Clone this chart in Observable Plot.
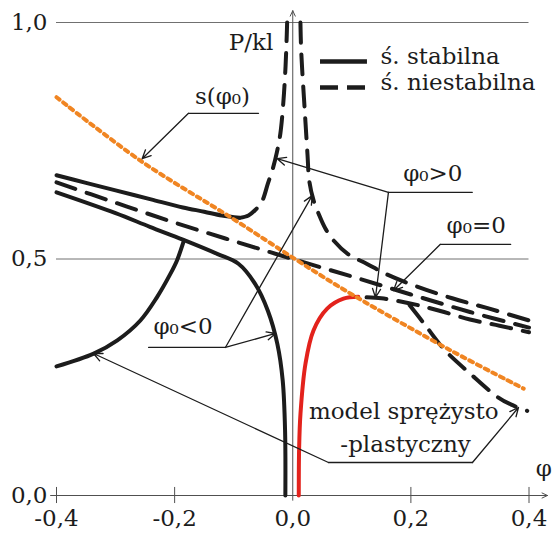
<!DOCTYPE html>
<html><head><meta charset="utf-8">
<script src="https://cdn.jsdelivr.net/npm/d3@7"></script>
<script src="https://cdn.jsdelivr.net/npm/@observablehq/plot@0.6"></script>
<style>
body{margin:0;background:#fff}
svg{display:block}
svg text, svg tspan{font-family:'DejaVu Serif','Liberation Serif','Noto Serif',Times,serif !important}
</style>
</head><body><div id="chart"></div>
<script>
// ---- axes ----
const xTicks = [-0.4, -0.2, 0, 0.2, 0.4];
const xTickMarks = [-0.4, -0.2, 0.2, 0.4];
const yTicks = [0, 0.5, 1.0];
const gridY = [0.5, 1.0];

// ---- curves (phi, P/kl) ----
const stablePos = [[-0.4,0.677],[-0.35,0.661],[-0.3,0.645],[-0.24,0.626],[-0.186,0.609],[-0.15,0.600],[-0.12,0.592],[-0.09,0.587]];
const unstablePos = [[-0.09,0.587],[-0.075,0.592],[-0.064,0.603],[-0.052,0.622],[-0.042,0.66],[-0.034,0.69],[-0.027,0.725],[-0.021,0.765],[-0.016,0.83],[-0.0125,0.9],[-0.0105,0.96],[-0.0095,1.0]];
const stableNeg = [[-0.4,0.641],[-0.3,0.597],[-0.242,0.568],[-0.186,0.541],[-0.128,0.511],[-0.092,0.49],[-0.064,0.448],[-0.042,0.39],[-0.026,0.32],[-0.017,0.243],[-0.013,0.137],[-0.0125,0]];
const unstableNeg = [[0.013,1.0],[0.014,0.95],[0.016,0.9],[0.019,0.84],[0.0215,0.79],[0.025,0.72],[0.028,0.665],[0.035,0.625],[0.044,0.595],[0.055,0.565],[0.07,0.538],[0.093,0.511],[0.125,0.49],[0.16,0.467],[0.21,0.442],[0.27,0.417],[0.33,0.396],[0.4,0.37]];
const perfect = [[-0.4,0.662],[-0.3,0.619],[-0.2,0.577],[-0.1,0.538],[0,0.5],[0.1,0.463],[0.2,0.425],[0.3,0.388],[0.4,0.355]];
const unstablePosRight = [[0.125,0.419],[0.15,0.417],[0.175,0.412],[0.21,0.403],[0.25,0.39],[0.3,0.372],[0.35,0.359],[0.4,0.345]];
const plasticRight = [[0.198,0.402],[0.222,0.364],[0.257,0.308],[0.3,0.258],[0.347,0.208],[0.37,0.192],[0.397,0.179]];
const plasticLeft = [[-0.4,0.273],[-0.337,0.30],[-0.297,0.328],[-0.258,0.37],[-0.23,0.419],[-0.207,0.469],[-0.196,0.497],[-0.185,0.536]];
const elasticPlastic = [[0.0102,0],[0.0108,0.1],[0.0131,0.173],[0.0216,0.279],[0.0351,0.349],[0.0583,0.395],[0.0859,0.416],[0.111,0.42]];
const yieldLine = [[-0.4,0.842],[-0.258,0.708],[-0.105,0.588],[0.0075,0.497],[0.103,0.423],[0.267,0.307],[0.391,0.226]];

// ---- annotation leaders ----
const leaderLines = [
  [[-0.1765,0.808],[-0.058,0.808]],
  [[0.162,0.641],[0.304,0.641]],
  [[0.250,0.531],[0.369,0.531]],
  [[-0.244,0.313],[-0.114,0.313]],
  [[0.0605,0.0698],[0.3043,0.0698]]
];
const leaderArrows = [
  [-0.1765,0.808,-0.255,0.712],
  [0.162,0.641,-0.0263,0.712],
  [0.162,0.641,0.1401,0.4186],
  [0.250,0.531,0.1706,0.4334],
  [-0.114,0.313,-0.0292,0.3425],
  [-0.114,0.313,0.0329,0.634],
  [0.0605,0.0698,-0.3373,0.3002],
  [0.3043,0.0698,0.3822,0.186]
];
const labels = [
  {x:-0.119, y:0.843, t:"s(φ₀)"},
  {x:-0.0707, y:0.957, t:"P/kl"},
  {x:0.2372, y:0.681, t:"φ₀>0"},
  {x:0.3106, y:0.5715, t:"φ₀=0"},
  {x:-0.1857, y:0.3565, t:"φ₀<0"},
  {x:0.188, y:0.178, t:"model sprężysto"},
  {x:0.191, y:0.1078, t:"-plastyczny"},
  {x:0.425, y:0.057, t:"φ"}
];
const legendNames = ["ś. stabilna", "ś. niestabilna"];
const legendY = [0.9175, 0.8626];
const legendX = [0.047, 0.1265, 0.1486];

const fmt = d => d.toFixed(1).replace(".", ",");
const serif = "DejaVu Serif";
const ink = "#1c1c1c";
const dash = "20,12";
const lw = 4;
const fs = 23;
const P = () => ({x: d => d[0], y: d => d[1]});

const chart = Plot.plot({
  width: 553, height: 536,
  marginLeft: 56, marginRight: 24.5, marginTop: 22, marginBottom: 41,
  x: {domain: [-0.4, 0.4], label: null},
  y: {domain: [0, 1], label: null},
  style: {background: "#fff", overflow: "visible"},
  marks: [
    Plot.axisX({ticks: xTicks, tickSize: 0, tickPadding: 14, tickFormat: fmt, fontSize: fs, fontFamily: serif, fill: ink, label: null}),
    Plot.axisY({ticks: yTicks, tickSize: 0, tickPadding: 9, tickFormat: fmt, fontSize: fs, fontFamily: serif, fill: ink, label: null}),
    Plot.ruleY(gridY, {x1: -0.4, x2: 0.4, stroke: "#707070", strokeWidth: 1}),
    Plot.arrow([[-0.41, 0, 0.4313, 0], [0, -0.01, 0, 1.025]], {x1: d => d[0], y1: d => d[1], x2: d => d[2], y2: d => d[3], stroke: "#505050", strokeWidth: 1, headLength: 9, headAngle: 50}),
    Plot.ruleX(xTickMarks, {y1: -0.017, y2: 0.017, stroke: "#505050", strokeWidth: 1}),
    // curves
    Plot.line(plasticLeft, {...P(), stroke: ink, strokeWidth: lw, curve: "catmull-rom"}),
    Plot.line(stablePos, {...P(), stroke: ink, strokeWidth: lw, curve: "catmull-rom"}),
    Plot.line(unstablePos, {...P(), stroke: ink, strokeWidth: lw, strokeDasharray: dash, curve: "catmull-rom"}),
    Plot.line(stableNeg, {...P(), stroke: ink, strokeWidth: lw, curve: "catmull-rom"}),
    Plot.line(unstableNeg, {...P(), stroke: ink, strokeWidth: lw, strokeDasharray: dash, curve: "catmull-rom"}),
    Plot.line(perfect, {...P(), stroke: ink, strokeWidth: lw, strokeDasharray: dash, curve: "catmull-rom"}),
    Plot.line(unstablePosRight, {...P(), stroke: ink, strokeWidth: lw, strokeDasharray: dash, curve: "catmull-rom"}),
    Plot.line(plasticRight, {...P(), stroke: ink, strokeWidth: lw, strokeDasharray: dash, curve: "catmull-rom"}),
    Plot.line(elasticPlastic, {...P(), stroke: "#e3221c", strokeWidth: lw, curve: "catmull-rom"}),
    Plot.line(yieldLine, {...P(), stroke: "#f08522", strokeWidth: 4, strokeDasharray: "4,4.6", curve: "catmull-rom"}),
    // leaders
    ...leaderLines.map(seg => Plot.line(seg, {...P(), stroke: ink, strokeWidth: 1.3})),
    Plot.arrow(leaderArrows, {x1: d => d[0], y1: d => d[1], x2: d => d[2], y2: d => d[3], stroke: ink, strokeWidth: 1.3, headLength: 11, headAngle: 50}),
    // legend
    Plot.ruleY([legendY[0]], {x1: legendX[0], x2: legendX[1], stroke: ink, strokeWidth: 4.5}),
    Plot.ruleY([legendY[1]], {x1: legendX[0], x2: legendX[1], stroke: ink, strokeWidth: 4.5, strokeDasharray: "18,9"}),
    Plot.text(legendNames, {x: legendX[2], y: (d, i) => legendY[i] + 0.01, text: d => d, textAnchor: "start", fontSize: fs, fontFamily: serif, fill: ink}),
    Plot.text(labels, {x: "x", y: "y", text: "t", fontSize: fs, fontFamily: serif, fill: ink})
  ]
});
document.getElementById("chart").appendChild(chart);
</script>
</body></html>
